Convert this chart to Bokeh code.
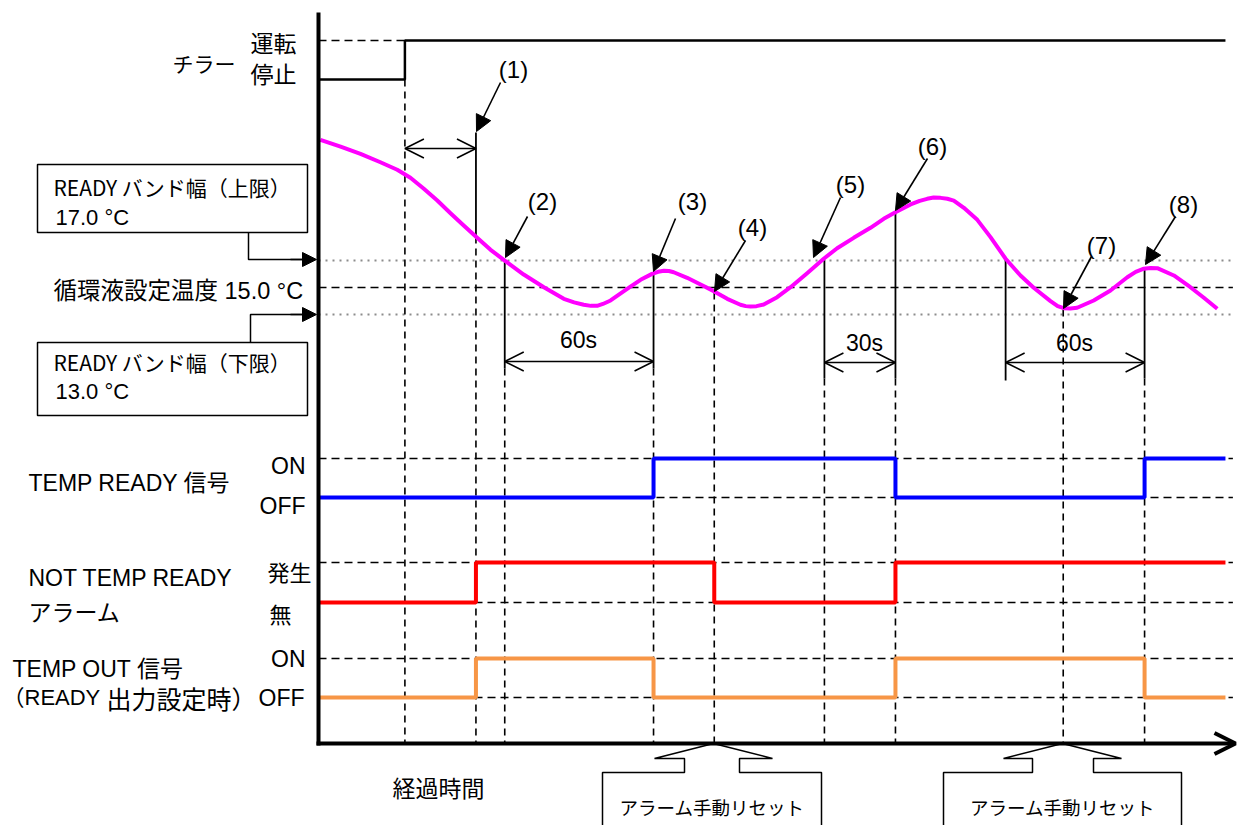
from bokeh.plotting import figure
from bokeh.models import Range1d, Arrow, OpenHead, NormalHead
from bokeh.core.properties import value
from bokeh.embed import file_html
from bokeh.resources import INLINE

# ---------------- data ----------------
# event times on the elapsed-time axis (s)
t_chiller_on = 36.0
t_ev = {"1": 65.6, "2": 77.6, "3": 139.6, "4": 164.9, "5": 210.8,
        "6": 240.4, "6b": 286.3, "7": 310.3, "8": 344.2}
t_end = 377.9
t_axis_end = 381.0

temp_set = 15.0
temp_band_hi = 17.0
temp_band_lo = 13.0

# circulating fluid temperature (s, degC)
curve_t = [0.8, 9.2, 17.5, 25.8, 32.8, 38.3, 43.9, 49.5, 55.0, 60.5, 66.1, 71.7,
           77.2, 85.5, 93.9, 102.2, 106.5, 110.5, 113.5, 116.1, 118.5, 121.7, 128.6,
           134.2, 139.0, 141.5, 143.9, 146.0, 148.0, 153.6, 159.2, 164.7, 170.3,
           175.8, 178.0, 180.0, 182.5, 185.5, 191.1, 196.7, 203.6, 210.5, 216.1,
           223.0, 230.0, 235.5, 240.4, 246.7, 250.5, 253.6, 256.3, 259.2, 262.0,
           264.7, 268.9, 274.5, 280.0, 286.3, 292.5, 298.0, 305.0, 308.0, 310.5,
           313.3, 316.1, 323.0, 330.0, 337.0, 340.5, 343.9, 346.7, 349.5, 356.4,
           363.3, 368.9, 374.5]
curve_T = [25.94, 25.44, 24.90, 24.28, 23.72, 23.13, 22.31, 21.44, 20.50, 19.59,
           18.68, 17.79, 17.05, 15.96, 15.02, 14.16, 13.90, 13.72, 13.64, 13.64,
           13.78, 14.04, 14.90, 15.57, 16.01, 16.16, 16.24, 16.22, 16.13, 15.72,
           15.22, 14.73, 14.16, 13.72, 13.62, 13.59, 13.62, 13.74, 14.28, 15.02,
           16.06, 17.13, 17.91, 18.68, 19.42, 20.09, 20.58, 21.15, 21.42, 21.57,
           21.66, 21.64, 21.57, 21.44, 20.90, 20.01, 18.73, 17.13, 15.89, 14.98,
           13.99, 13.62, 13.47, 13.44, 13.50, 14.04, 14.78, 15.76, 16.16, 16.39,
           16.45, 16.43, 15.89, 15.02, 14.24, 13.42]

# digital signals (0 = stop/OFF/none, 1 = run/ON/occurring)
chiller_t = [0.0, t_chiller_on, t_end]
chiller_s = [0, 1, 1]
ready_t = [0.0, t_ev["3"], t_ev["6"], t_ev["8"], t_end]
ready_s = [0, 1, 0, 1, 1]
alarm_t = [0.0, t_ev["1"], t_ev["4"], t_ev["6"], t_end]
alarm_s = [0, 1, 0, 1, 1]
out_t = [0.0, t_ev["1"], t_ev["3"], t_ev["6"], t_ev["8"], t_end]
out_s = [0, 1, 0, 1, 0, 0]

# ---------------- layout ----------------
W, H = 1240, 825
OX, OY = 0, 0
T0_PX, PX_PER_S = 318, 2.4
SET_PX, PX_PER_DEG = 287, 13.5

x_start = (OX - T0_PX) / PX_PER_S
x_end = x_start + W / PX_PER_S

p = figure(width=W, height=H, x_range=Range1d(x_start, x_end),
           y_range=Range1d(OY + H, OY), output_backend="svg",
           toolbar_location=None, min_border=0, x_axis_location=None,
           y_axis_location=None, outline_line_color=None,
           background_fill_color="white", border_fill_color="white")
p.grid.visible = False


def level_range(px_off, px_on):
    upp = 1.0 / (px_off - px_on)
    return Range1d(start=-(OY + H - px_off) * upp, end=1 + (px_on - OY) * upp)


p.extra_x_ranges = {"px": Range1d(OX, OX + W)}
p.extra_y_ranges = {
    "temp": Range1d(start=temp_set - (OY + H - SET_PX) / PX_PER_DEG,
                    end=temp_set + (SET_PX - OY) / PX_PER_DEG),
    "chiller": level_range(79, 40),
    "ready": level_range(497, 458),
    "alarm": level_range(602, 562),
    "out": level_range(697, 658),
}

LATIN = value("Liberation Sans")
MIXED = value("Liberation Sans, Noto Sans CJK JP")
CJK = value("Noto Sans CJK JP")
DASH = "8 5"


def label(x, y, s, size, align="left", font=MIXED):
    p.text(x=[x], y=[y], text=[s], x_range_name="px", text_font=font,
           text_font_size=f"{size}px", text_align=align,
           text_baseline="middle", text_color="black")


# reference level lines
p.line([0, t_chiller_on], [1, 1], y_range_name="chiller", line_color="black",
       line_width=1.6, line_dash=DASH)
p.line([0, t_axis_end], [temp_set, temp_set], y_range_name="temp",
       line_color="black", line_width=1.6, line_dash=DASH)
for lv in (temp_band_hi, temp_band_lo):
    p.line([0, t_axis_end], [lv, lv], y_range_name="temp", line_color="#8c8c8c",
           line_width=2, line_dash="2 5")
for rn in ("ready", "alarm", "out"):
    for lv in (0, 1):
        p.line([0, t_axis_end], [lv, lv], y_range_name=rn, line_color="black",
               line_width=1.6, line_dash=DASH)

# event marker lines (time from data, vertical extent from layout)
solid_t = [t_ev["1"], t_ev["2"], t_ev["3"], t_ev["5"], t_ev["6"], t_ev["6b"], t_ev["8"]]
solid_top = [132, 259, 272, 259, 211, 259, 268]
solid_bot = [236, 368, 368, 378, 378, 380, 378]
p.segment(x0=solid_t, x1=solid_t, y0=solid_top, y1=solid_bot, line_color="black",
          line_width=1.8)
dash_t = [t_chiller_on, t_ev["1"], t_ev["2"], t_ev["3"], t_ev["4"], t_ev["5"],
          t_ev["6"], t_ev["7"], t_ev["8"]]
dash_top = [79, 236, 368, 368, 292, 378, 378, 309, 378]
for x, y0 in zip(dash_t, dash_top):
    p.line([x, x], [y0, 743], line_color="black", line_width=1.6, line_dash="7 5")

# signals
p.step(chiller_t, chiller_s, mode="after", y_range_name="chiller",
       line_color="black", line_width=2.5)
p.line(curve_t, curve_T, y_range_name="temp", line_color="#FF00FF", line_width=4,
       line_join="round")
p.step(ready_t, ready_s, mode="after", y_range_name="ready", line_color="#0000FF",
       line_width=4)
p.step(alarm_t, alarm_s, mode="after", y_range_name="alarm", line_color="#FF0000",
       line_width=4)
p.step(out_t, out_s, mode="after", y_range_name="out", line_color="#F79646",
       line_width=4)

# span arrows with open heads
spans = [(t_chiller_on, t_ev["1"], 148), (t_ev["2"], t_ev["3"], 361),
         (t_ev["5"], t_ev["6"], 362), (t_ev["6b"], t_ev["8"], 362)]
for a, b, y in spans:
    p.add_layout(Arrow(start=OpenHead(size=19, line_width=1.5),
                       end=OpenHead(size=19, line_width=1.5),
                       x_start=a, y_start=y, x_end=b, y_end=y, line_width=1.5))
label(578, 339, "60s", 23, "center", LATIN)
label(864, 342, "30s", 23, "center", LATIN)
label(1074, 342, "60s", 23, "center", LATIN)

# numbered pointers
pointers = [("(1)", 513, 69, 500, 82, 476, 131),
            ("(2)", 542, 201, 527, 216, 505, 257),
            ("(3)", 692, 201, 675, 218, 653, 271),
            ("(4)", 752, 227, 745, 240, 714, 291),
            ("(5)", 850, 184, 840, 197, 813, 257),
            ("(6)", 932, 146, 927, 158, 895, 210),
            ("(7)", 1101, 245, 1091, 256, 1063, 308),
            ("(8)", 1183, 204, 1175, 216, 1145, 264)]
for txt, lx, ly, x0, y0, x1, y1 in pointers:
    label(lx, ly, txt, 24, "center", LATIN)
    p.add_layout(Arrow(end=NormalHead(size=16, fill_color="black", line_color="black"),
                       x_start=x0, y_start=y0, x_end=x1, y_end=y1,
                       line_width=1.6, x_range_name="px"))

# left-hand labels
label(172, 62, "チラー", 21, font=CJK)
label(250, 41, "運転", 23, font=CJK)
label(250, 72, "停止", 23, font=CJK)

p.quad(left=[37, 37], right=[307, 307], top=[164, 342], bottom=[232, 415],
       fill_color="white", line_color="black", line_width=1.5, x_range_name="px")
label(53, 186, "READY バンド幅（上限）", 21, font=CJK)
label(55, 217, "17.0 °C", 22, font=LATIN)
label(53, 361, "READY バンド幅（下限）", 21, font=CJK)
label(55, 391, "13.0 °C", 22, font=LATIN)
label(53, 290, "循環液設定温度 15.0 °C", 23.5)

p.line([248, 248, 305], [232, 259, 259], x_range_name="px", line_color="black",
       line_width=1.5)
p.line([250, 250, 305], [342, 314, 314], x_range_name="px", line_color="black",
       line_width=1.5)
for y in (259, 314):
    p.add_layout(Arrow(end=NormalHead(size=14, fill_color="black", line_color="black"),
                       x_start=290, y_start=y, x_end=316, y_end=y, line_width=1.5,
                       x_range_name="px"))

label(28, 482, "TEMP READY 信号", 23)
label(305, 465, "ON", 23, "right", LATIN)
label(305, 505, "OFF", 23, "right", LATIN)
label(28, 577, "NOT TEMP READY", 23, font=LATIN)
label(28, 610, "アラーム", 23, font=CJK)
label(267, 570, "発生", 22, font=CJK)
label(269, 612, "無", 22, font=CJK)
label(12, 668, "TEMP OUT 信号", 23)
label(2, 697, "（READY", 22)
label(106, 697, "出力設定時）", 25, font=CJK)
label(305, 658, "ON", 23, "right", LATIN)
label(304, 697, "OFF", 23, "right", LATIN)

label(438, 786, "経過時間", 23, "center", CJK)

# manual-reset callouts
for tip, bl, br, nl, nr, al, ar in [(713, 602, 821, 684, 739, 654, 772),
                                    (1062, 943, 1181, 1032, 1093, 1003, 1121)]:
    xs = [tip, ar, nr, nr, br, br, bl, bl, nl, nl, al]
    ys = [743, 758, 758, 772, 772, 840, 840, 772, 772, 758, 758]
    p.patch(xs, ys, fill_color="white", line_color="black", line_width=1.5,
            x_range_name="px")
    label((bl + br) / 2, 806, "アラーム手動リセット", 18.5, "center", CJK)

# axes
p.line([318, 318], [12, 745], x_range_name="px", line_color="black", line_width=4)
p.add_layout(Arrow(end=OpenHead(size=21, line_width=4), x_start=316, y_start=743,
                   x_end=1235, y_end=743, line_width=4, x_range_name="px"))

open("out.html", "w").write(file_html(p, INLINE))
